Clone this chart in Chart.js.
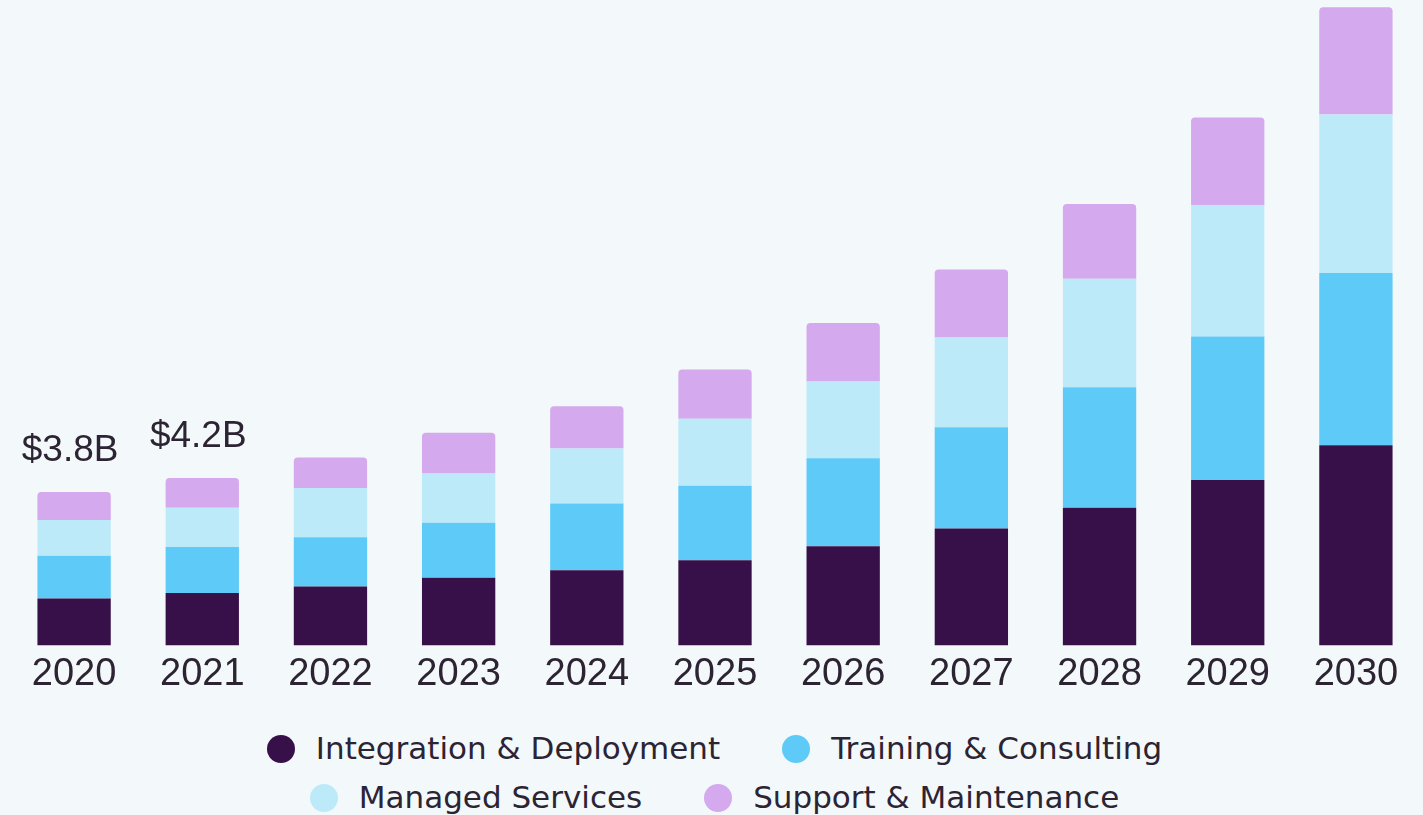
<!DOCTYPE html>
<html lang="en">
<head>
    <meta charset="UTF-8">
    <title>Services Market Chart</title>
    <script src="https://cdn.jsdelivr.net/npm/chart.js"></script>
    <style>
        body {
            margin: 0;
            background-color: #f3f8fb;
            width: 1423px;
            height: 815px;
            overflow: hidden;
        }

        .chart-box {
            position: relative;
            width: 1423px;
            height: 704px;
        }

        .legend {
            position: absolute;
            top: 724px;
            left: 0;
            width: 1423px;
            padding-left: 6px;
            box-sizing: border-box;
            font-family: "DejaVu Sans", sans-serif;
            font-size: 31px;
            color: #2c2433;
        }

        .legend-row {
            display: flex;
            justify-content: center;
            height: 49px;
            line-height: 49px;
        }

        .legend-item {
            display: flex;
            align-items: center;
            margin: 0 31px;
            white-space: nowrap;
        }

        .legend-dot {
            width: 28px;
            height: 28px;
            border-radius: 50%;
            margin-right: 21px;
        }
    </style>
</head>
<body>
<div class="chart-box">
    <canvas id="marketChart"></canvas>
</div>
<div class="legend" id="legend"></div>

<script>
    const years = ['2020', '2021', '2022', '2023', '2024', '2025', '2026', '2027', '2028', '2029', '2030'];
    const integration = [1.16, 1.30, 1.46, 1.68, 1.86, 2.11, 2.46, 2.90, 3.41, 4.10, 4.96];
    const training = [1.06, 1.14, 1.22, 1.36, 1.66, 1.85, 2.18, 2.51, 2.99, 3.56, 4.27];
    const managed = [0.89, 0.97, 1.22, 1.22, 1.36, 1.66, 1.90, 2.22, 2.69, 3.26, 3.93];
    const support = [0.69, 0.74, 0.76, 1.01, 1.05, 1.22, 1.45, 1.69, 1.85, 2.17, 2.66];
    const totalLabels = ['$3.8B', '$4.2B', '', '', '', '', '', '', '', '', ''];

    const seriesNames = ['Integration & Deployment', 'Training & Consulting', 'Managed Services', 'Support & Maintenance'];
    const seriesColors = ['#371049', '#5ecaf7', '#bdeaf9', '#d4a9ed'];
    const legendRows = [[0, 1], [2, 3]];

    const textColor = '#2c2433';

    // draws the total above the first bars
    const totalLabelPlugin = {
        id: 'totalLabels',
        afterDatasetsDraw(chart) {
            const ctx = chart.ctx;
            const topMeta = chart.getDatasetMeta(chart.data.datasets.length - 1);
            ctx.save();
            ctx.font = '37px "Liberation Sans", Arial, sans-serif';
            ctx.fillStyle = textColor;
            ctx.textAlign = 'center';
            ctx.textBaseline = 'alphabetic';
            totalLabels.forEach((label, i) => {
                if (!label) return;
                const bar = topMeta.data[i];
                ctx.fillText(label, bar.x - 4, bar.y - 31);
            });
            ctx.restore();
        }
    };

    function renderChart(ctx) {
        const values = [integration, training, managed, support];
        new Chart(ctx, {
            type: 'bar',
            data: {
                labels: years,
                datasets: values.map((data, i) => ({
                    label: seriesNames[i],
                    data: data,
                    backgroundColor: seriesColors[i],
                    borderWidth: 0,
                    borderRadius: i === values.length - 1 ? {topLeft: 4, topRight: 4, bottomLeft: 0, bottomRight: 0} : 0,
                    borderSkipped: false,
                    barPercentage: 0.572,
                    categoryPercentage: 1
                }))
            },
            options: {
                responsive: true,
                maintainAspectRatio: false,
                animation: false,
                layout: {
                    padding: {left: 10, right: 3, top: 0, bottom: 1}
                },
                plugins: {
                    legend: {display: false},
                    tooltip: {enabled: false}
                },
                scales: {
                    x: {
                        stacked: true,
                        grid: {display: false, drawTicks: false},
                        border: {display: false},
                        ticks: {
                            color: textColor,
                            padding: 6,
                            font: {family: '"Liberation Sans", Arial, sans-serif', size: 38}
                        }
                    },
                    y: {
                        stacked: true,
                        display: false,
                        min: 0,
                        max: 16
                    }
                }
            },
            plugins: [totalLabelPlugin]
        });
    }

    function renderLegend() {
        const legend = document.getElementById('legend');
        legendRows.forEach(row => {
            const rowDiv = document.createElement('div');
            rowDiv.className = 'legend-row';
            row.forEach(i => {
                const item = document.createElement('div');
                item.className = 'legend-item';
                const dot = document.createElement('span');
                dot.className = 'legend-dot';
                dot.style.backgroundColor = seriesColors[i];
                const text = document.createElement('span');
                text.textContent = seriesNames[i];
                item.appendChild(dot);
                item.appendChild(text);
                rowDiv.appendChild(item);
            });
            legend.appendChild(rowDiv);
        });
    }

    renderChart(document.getElementById('marketChart').getContext('2d'));
    renderLegend();
</script>
</body>
</html>
